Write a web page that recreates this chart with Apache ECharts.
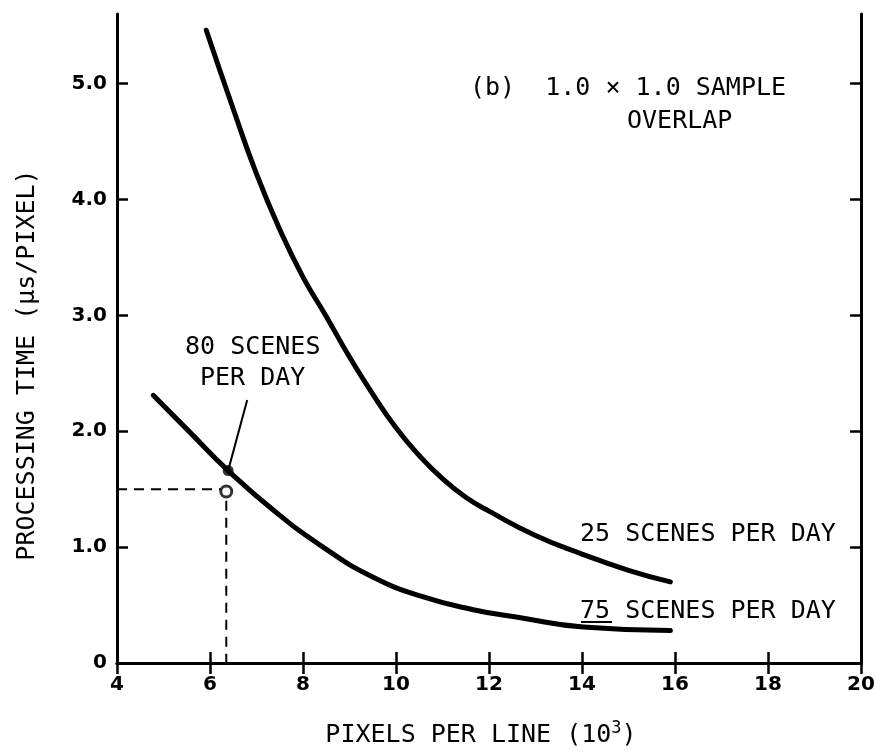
<!DOCTYPE html>
<html>
<head>
<meta charset="utf-8">
<script src="https://cdn.jsdelivr.net/npm/echarts@6/dist/echarts.min.js"></script>
<style>
  html, body { margin: 0; padding: 0; background: #fff; }
  #main { width: 876px; height: 754px; }
</style>
</head>
<body>
<div id="main"></div>
<script>
// values
var xTicks = [4, 6, 8, 10, 12, 14, 16, 18, 20];
var yTicks = [0, 1, 2, 3, 4, 5];

var scenes25X = [5.92, 6.5, 7.0, 7.5, 8.0, 8.5, 9.0, 9.5, 10.0, 10.5, 11.0, 11.5, 12.0, 13.0, 14.0, 15.0, 15.9];
var scenes25Y = [5.46, 4.78, 4.22, 3.74, 3.33, 2.99, 2.64, 2.32, 2.03, 1.79, 1.59, 1.43, 1.31, 1.10, 0.94, 0.80, 0.70];

var scenes75X = [4.78, 5.57, 6.39, 7.36, 8.43, 9.51, 10.59, 11.66, 12.68, 14.03, 15.9];
var scenes75Y = [2.31, 1.99, 1.66, 1.32, 1.00, 0.74, 0.57, 0.46, 0.39, 0.31, 0.28];

// 80 scenes per day point and its reading
var point80 = [6.39, 1.66];
var readPoint = [6.35, 1.48];
var readLevel = 1.5;
var leaderEnd = [6.80, 2.27];

function pairs (xs, ys) {
  return xs.map(function (x, i) { return [x, ys[i]]; });
}

var mono = '"DejaVu Sans Mono", "Liberation Mono", monospace';
var tickFont = '"DejaVu Sans", sans-serif';

var myChart = echarts.init(document.getElementById('main'));

var axisLine = { show: true, lineStyle: { color: '#000', width: 3 } };
var tickIn = { show: true, inside: true, length: 11, lineStyle: { color: '#000', width: 2.5 } };

var option = {
  backgroundColor: '#fff',
  animation: false,
  grid: { left: 117, right: 15, top: 14, bottom: 91, outerBoundsMode: 'none' },
  xAxis: [
    {
      type: 'value', position: 'bottom', min: 4, max: 20, interval: 2,
      axisLine: axisLine, axisTick: tickIn, splitLine: { show: false },
      axisLabel: { color: '#000', fontFamily: tickFont, fontWeight: 'bold', fontSize: 20, margin: 12 }
    },
    {
      type: 'value', position: 'top', min: 4, max: 20, interval: 2,
      axisLine: axisLine, axisTick: tickIn, splitLine: { show: false },
      axisLabel: { show: false }
    }
  ],
  yAxis: [
    {
      type: 'value', position: 'left', min: 0, max: 5.6,
      axisLine: axisLine, splitLine: { show: false },
      axisTick: Object.assign({ customValues: yTicks }, tickIn),
      axisLabel: {
        customValues: yTicks, color: '#000', fontFamily: tickFont, fontWeight: 'bold', fontSize: 20, margin: 10,
        formatter: function (v) { return v === 0 ? '0' : v.toFixed(1); }
      }
    },
    {
      type: 'value', position: 'right', min: 0, max: 5.6,
      axisLine: axisLine, splitLine: { show: false },
      axisTick: Object.assign({ customValues: yTicks }, tickIn),
      axisLabel: { show: false }
    }
  ],
  series: [
    {
      name: '25 SCENES PER DAY', type: 'line', smooth: 0.5, symbol: 'none',
      lineStyle: { color: '#000', width: 5, cap: 'round' },
      data: pairs(scenes25X, scenes25Y)
    },
    {
      name: '75 SCENES PER DAY', type: 'line', smooth: 0.5, symbol: 'none',
      lineStyle: { color: '#000', width: 5, cap: 'round' },
      data: pairs(scenes75X, scenes75Y)
    },
    {
      // dashed reading lines
      type: 'line', symbol: 'none',
      lineStyle: { color: '#000', width: 2, type: [10, 7] },
      data: [[4, readLevel], [readPoint[0] - 0.12, readLevel]]
    },
    {
      type: 'line', symbol: 'none',
      lineStyle: { color: '#000', width: 2, type: [10, 7] },
      data: [[readPoint[0], readPoint[1] - 0.08], [readPoint[0], 0]]
    },
    {
      // leader from the label
      type: 'line', symbol: 'none',
      lineStyle: { color: '#000', width: 2 },
      data: [point80, leaderEnd]
    },
    {
      type: 'scatter', symbol: 'circle', symbolSize: 11,
      itemStyle: { color: '#000' },
      data: [point80]
    },
    {
      type: 'scatter', symbol: 'circle', symbolSize: 11,
      itemStyle: { color: '#fff', borderColor: '#000', borderWidth: 3 },
      data: [readPoint]
    }
  ],
  graphic: [
    { type: 'text', x: 470, y: 88, style: { text: '(b)  1.0 × 1.0 SAMPLE', font: '25px ' + mono, fill: '#000', textVerticalAlign: 'middle' } },
    { type: 'text', x: 627, y: 121, style: { text: 'OVERLAP', font: '25px ' + mono, fill: '#000', textVerticalAlign: 'middle' } },
    { type: 'text', x: 185, y: 347, style: { text: '80 SCENES', font: '25px ' + mono, fill: '#000', textVerticalAlign: 'middle' } },
    { type: 'text', x: 200, y: 378, style: { text: 'PER DAY', font: '25px ' + mono, fill: '#000', textVerticalAlign: 'middle' } },
    { type: 'text', x: 580, y: 534, style: { text: '25 SCENES PER DAY', font: '25px ' + mono, fill: '#000', textVerticalAlign: 'middle' } },
    { type: 'text', x: 580, y: 611, style: { text: '75 SCENES PER DAY', font: '25px ' + mono, fill: '#000', textVerticalAlign: 'middle' } },
    { type: 'line', shape: { x1: 581, y1: 622, x2: 612, y2: 622 }, style: { stroke: '#000', lineWidth: 2 } },
    {
      type: 'text', x: 27, y: 365, rotation: Math.PI / 2,
      style: { text: 'PROCESSING TIME (μs/PIXEL)', font: '25px ' + mono, fill: '#000', textAlign: 'center', textVerticalAlign: 'middle' }
    },
    {
      type: 'text', x: 481, y: 735,
      style: {
        text: '{a|PIXELS PER LINE (10}{s|3}{a|)}', fill: '#000', textAlign: 'center', textVerticalAlign: 'middle',
        rich: {
          a: { fontFamily: mono, fontSize: 25, color: '#000' },
          s: { fontFamily: mono, fontSize: 17, color: '#000', verticalAlign: 'top', padding: [0, 0, 12, 0] }
        }
      }
    }
  ]
};

myChart.setOption(option);
</script>
</body>
</html>
